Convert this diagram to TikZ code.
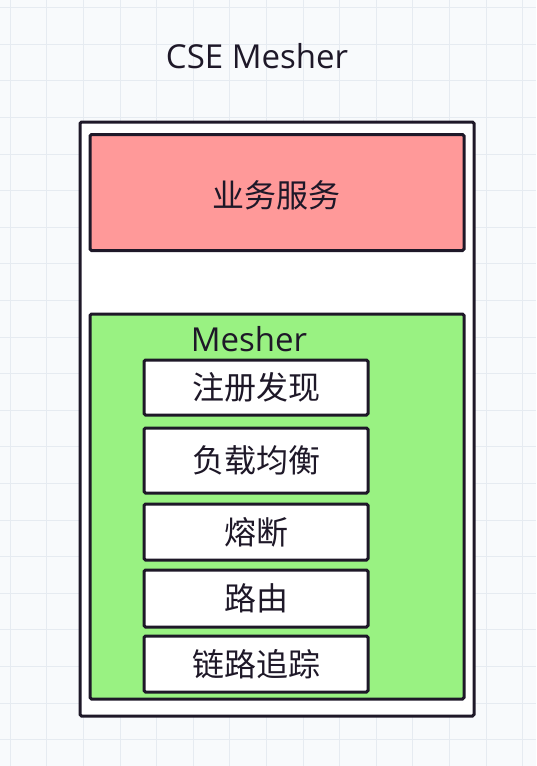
\documentclass[tikz,border=0pt]{standalone}
\usepackage{fontspec}
\setmainfont{Open Sans}
\newfontfamily\cjk{Noto Sans CJK SC}
\usetikzlibrary{positioning}
\definecolor{bgcol}{RGB}{248,250,252}
\definecolor{gridcol}{RGB}{230,235,241}
\definecolor{inkcol}{RGB}{30,24,40}
\definecolor{svccol}{RGB}{255,153,153}
\definecolor{meshcol}{RGB}{153,242,130}

\tikzset{
  box/.style={draw=inkcol, line width=3pt, rounded corners=1.5pt, inner sep=0pt, outer sep=0pt},
  feature/.style={box, fill=white, minimum width=224pt, font=\cjk\fontsize{32}{34}\selectfont, text=inkcol}
}

\begin{document}
\begin{tikzpicture}[x=1pt,y=-1pt]

  \useasboundingbox (0,0) rectangle (536,766);
  \fill[bgcol] (0,0) rectangle (536,766);

  % background grid
  \foreach \gx in {10,46.6,...,536} \draw[gridcol,line width=0.6pt] (\gx,0) -- (\gx,766);
  \foreach \gy in {7.4,44,...,766} \draw[gridcol,line width=0.6pt] (0,\gy) -- (536,\gy);

  \node(title)[text=inkcol,font=\fontsize{33}{36}\selectfont] at (257,56) {CSE Mesher};

  \node(frame)[box,fill=white,minimum width=394pt,minimum height=594pt] at (277,419) {};

  \node(svc)[box,fill=svccol,minimum width=374pt,minimum height=116pt] at (277,192.5) {};
  \node[text=inkcol,font=\cjk\fontsize{32}{34}\selectfont] at (276,195) {业务服务};

  \node(mesh)[box,fill=meshcol,minimum width=374pt,minimum height=385pt] at (277,506.5) {};
  \node(meshlabel)[text=inkcol,font=\fontsize{33}{36}\selectfont] at (249,339) {Mesher};

  \node(reg)[feature,minimum height=55pt] at (256,387.5) {注册发现};
  \node(lb)[feature,minimum height=65pt] at (256,460.5) {负载均衡};
  \node(cb)[feature,minimum height=56pt] at (256,532) {熔断};
  \node(route)[feature,minimum height=57pt] at (256,598.5) {路由};
  \node(trace)[feature,minimum height=56pt] at (256,664) {链路追踪};

\end{tikzpicture}
\end{document}
